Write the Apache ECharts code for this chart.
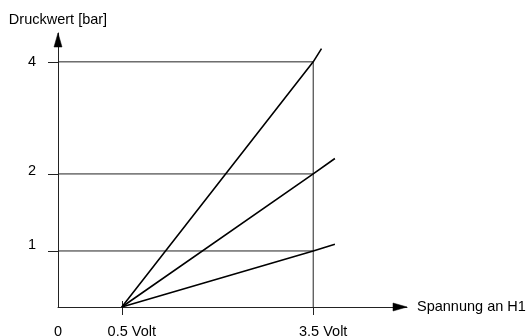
<!DOCTYPE html>
<html><head><meta charset="utf-8">
<script src="https://cdn.jsdelivr.net/npm/echarts@6/dist/echarts.min.js"></script>
<style>html,body{margin:0;padding:0;background:#fff}#c{width:528px;height:336px}</style>
</head><body><div id="c"></div>
<script>
// Schematic axis positions (the original drawing is not to scale)
const xTickPos = [0, 1, 4];
const xTickLabels = ['0', '0.5 Volt', '3.5 Volt'];
const yLevelPos = [1, 2.375, 4.375];
const yLevelLabels = ['1', '2', '4'];
// Three characteristic lines: start at 0.5 Volt (pos 1, 0 bar), reach their level at 3.5 Volt (pos 4)
const lineStart = [1, 0];
const lineRefX = 4;
const lineRefY = [4.375, 2.375, 1];
const lineEndX = [4.13, 4.34, 4.34];
const lineEndY = [4.61, 2.65, 1.12];
const xMax = 5.47, yMax = 4.89;

const FONT = 'Liberation Sans, Arial, sans-serif';
const FS = 14.5;
const thin = '#222';

const series = [];
// horizontal level lines
yLevelPos.forEach(function (y) {
  series.push({type: 'line', data: [[0, y], [lineRefX, y]], symbol: 'none', silent: true,
    lineStyle: {color: thin, width: 1}, z: 1});
});
// vertical line at 3.5 Volt
series.push({type: 'line', data: [[lineRefX, 0], [lineRefX, Math.max.apply(null, yLevelPos)]], symbol: 'none',
  silent: true, lineStyle: {color: thin, width: 1}, z: 1});
// characteristic lines
lineRefY.forEach(function (y, i) {
  series.push({type: 'line', data: [lineStart, [lineRefX, y], [lineEndX[i], lineEndY[i]]], symbol: 'none',
    silent: true, lineStyle: {color: '#000', width: 1.6}, z: 3});
});

const chart = echarts.init(document.getElementById('c'), null, {renderer: 'canvas'});
chart.setOption({
  animation: false,
  backgroundColor: '#fff',
  grid: {left: 58, right: 121, top: 33, bottom: 29, containLabel: false, outerBoundsMode: 'none'},
  xAxis: [{
    type: 'value', min: 0, max: xMax,
    name: 'Spannung an H1', nameLocation: 'end', nameGap: 10,
    nameTextStyle: {color: '#000', fontFamily: FONT, fontSize: FS, verticalAlign: 'middle'},
    axisLine: {show: true, lineStyle: {color: thin, width: 1}},
    axisTick: {show: true, customValues: [1, 4], length: 8, lineStyle: {color: thin, width: 1}},
    splitLine: {show: false},
    axisLabel: {show: true, customValues: xTickPos, margin: 17, color: '#000', fontFamily: FONT, fontSize: FS,
      formatter: function (v) {
        const i = xTickPos.indexOf(v);
        if (i < 0) return '';
        return i === 0 ? xTickLabels[i] : '{s|' + xTickLabels[i] + '}';
      },
      rich: {s: {padding: [0, 0, 0, 20], fontFamily: FONT, fontSize: FS, color: '#000'}}
    }
  }, {
    type: 'value', min: 0, max: xMax, position: 'bottom',
    axisLine: {show: false},
    axisTick: {show: true, inside: true, customValues: [1], length: 6, lineStyle: {color: thin, width: 1}},
    axisLabel: {show: false}, splitLine: {show: false}
  }],
  yAxis: {
    type: 'value', min: 0, max: yMax,
    name: 'Druckwert [bar]', nameLocation: 'end', nameGap: 6,
    nameTextStyle: {color: '#000', fontFamily: FONT, fontSize: FS},
    axisLine: {show: true, lineStyle: {color: thin, width: 1}},
    axisTick: {show: true, customValues: yLevelPos, length: 10, lineStyle: {color: thin, width: 1}},
    splitLine: {show: false},
    axisLabel: {show: true, customValues: yLevelPos, margin: 22, color: '#000', fontFamily: FONT, fontSize: FS,
      formatter: function (v) {
        const i = yLevelPos.indexOf(v);
        if (i < 0) return '';
        return '{l' + i + '|' + yLevelLabels[i] + '}';
      },
      rich: {
        l0: {padding: [0, 0, 12, 0], fontFamily: FONT, fontSize: FS, color: '#000'},
        l1: {padding: [0, 0, 5, 0], fontFamily: FONT, fontSize: FS, color: '#000'},
        l2: {padding: [0, 0, 0, 0], fontFamily: FONT, fontSize: FS, color: '#000'}
      }
    }
  },
  series: series
});

// filled arrow heads at the axis ends, placed through the chart's own scales
const yEnd = chart.convertToPixel({gridIndex: 0}, [0, yMax]);
const xEnd = chart.convertToPixel({gridIndex: 0}, [xMax, 0]);
chart.setOption({
  graphic: {elements: [
    {type: 'polygon', id: 'yArrow', silent: true, zlevel: 5, z: 1000,
      shape: {points: [[yEnd[0], yEnd[1]], [yEnd[0] - 4, yEnd[1] + 14], [yEnd[0] + 4, yEnd[1] + 14]]},
      style: {fill: '#000', stroke: '#000', lineWidth: 0.5}},
    {type: 'polygon', id: 'xArrow', silent: true, zlevel: 5, z: 1000,
      shape: {points: [[xEnd[0], xEnd[1]], [xEnd[0] - 14, xEnd[1] - 4], [xEnd[0] - 14, xEnd[1] + 4]]},
      style: {fill: '#000', stroke: '#000', lineWidth: 0.5}}
  ]}
});
</script>
</body></html>
